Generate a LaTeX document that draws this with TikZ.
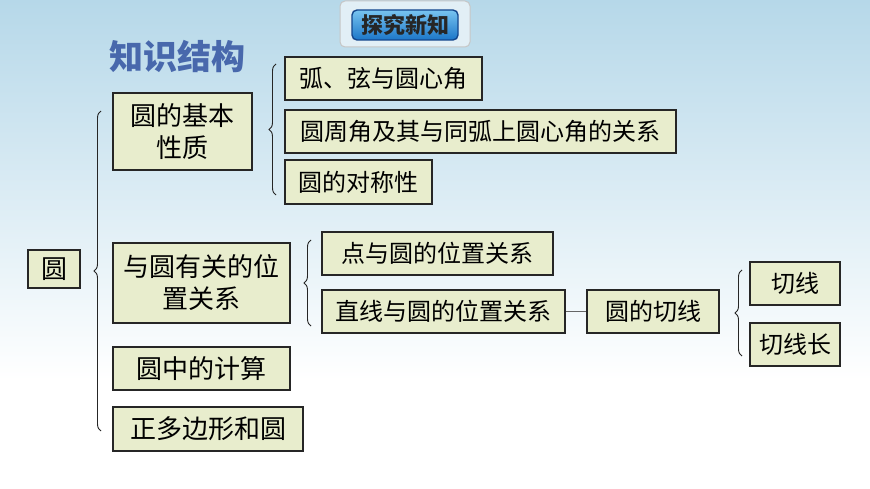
\documentclass[tikz,border=0pt]{standalone}
\usepackage{fontspec}
\setmainfont{Noto Sans CJK SC}
\usetikzlibrary{decorations.pathreplacing,shadows}
\definecolor{boxfill}{RGB}{232,237,205}
\definecolor{sky}{RGB}{182,216,233}
\definecolor{titleblue}{RGB}{72,104,172}
\definecolor{bannertop}{RGB}{120,196,240}
\definecolor{bannerbot}{RGB}{28,118,200}
\definecolor{bannerline}{RGB}{20,70,140}
\tikzset{
  kbox/.style={draw=black!85, line width=1.2pt, fill=boxfill, inner sep=0pt, align=center,
    font=\fontsize{24}{30}\selectfont,
    drop shadow={shadow xshift=1.2pt, shadow yshift=-1.2pt, fill=black!50, opacity=0.5}},
  bigtext/.style={font=\fontsize{26}{32}\selectfont},
  brc/.style={decorate, decoration={brace, amplitude=7pt}, line width=0.9pt, draw=black!85},
}
\begin{document}
\begin{tikzpicture}[x=1pt,y=-1pt]
\useasboundingbox (0,0) rectangle (870,489);
% background
\shade[top color=sky, bottom color=white] (0,0) rectangle (870,380);
\fill[white] (0,380) rectangle (870,489);
% banner
\draw[rounded corners=5pt, fill=sky!40!white, draw=gray!45, line width=1pt] (340,1) rectangle (470,47);
\node[rounded corners=5pt, draw=bannerline, line width=1.4pt, top color=bannertop, bottom color=bannerbot,
  minimum width=106pt, minimum height=30pt, inner sep=0pt,
  font=\fontsize{22}{22}\selectfont\bfseries, text=black!85] (banner) at (405,25) {探究新知};
% title
\node[font=\fontsize{34}{34}\selectfont\bfseries, text=titleblue, inner sep=0pt] (title) at (177,57) {知识结构};
% boxes
\node[kbox, bigtext, minimum width=52pt, minimum height=38pt] (yuan) at (54,269) {圆};
\node[kbox, bigtext, minimum width=139pt, minimum height=77pt] (jb) at (182.5,131.5) {圆的基本\\性质};
\node[kbox, minimum width=197pt, minimum height=43pt] (a1) at (383.5,78.5) {弧、弦与圆心角};
\node[kbox, minimum width=391pt, minimum height=43pt] (a2) at (480.5,131.5) {圆周角及其与同弧上圆心角的关系};
\node[kbox, minimum width=147pt, minimum height=44pt] (a3) at (358.5,182) {圆的对称性};
\node[kbox, bigtext, minimum width=177pt, minimum height=80pt] (wz) at (201.5,283) {与圆有关的位\\置关系};
\node[kbox, minimum width=231pt, minimum height=43pt] (b1) at (437.5,253.5) {点与圆的位置关系};
\node[kbox, minimum width=243pt, minimum height=43pt] (b2) at (443.5,311.5) {直线与圆的位置关系};
\node[kbox, minimum width=132pt, minimum height=43pt] (qx) at (653,311.5) {圆的切线};
\node[kbox, minimum width=90pt, minimum height=43pt] (c1) at (795,283.5) {切线};
\node[kbox, minimum width=90pt, minimum height=43pt] (c2) at (795,344.5) {切线长};
\node[kbox, bigtext, minimum width=177pt, minimum height=43pt] (js) at (201.5,368.5) {圆中的计算};
\node[kbox, bigtext, minimum width=190pt, minimum height=44pt] (zd) at (208,429) {正多边形和圆};
% connector
\draw[line width=1.8pt, draw=black!60] (b2.east) -- (qx.west);
% braces
\coordinate (g1t) at (101,111); \coordinate (g1b) at (101,431);
\draw[brc] (g1b) -- (g1t);
\coordinate (g2t) at (276,64); \coordinate (g2b) at (276,195);
\draw[brc] (g2b) -- (g2t);
\coordinate (g3t) at (311,240); \coordinate (g3b) at (311,326);
\draw[brc] (g3b) -- (g3t);
\coordinate (g4t) at (742,270); \coordinate (g4b) at (742,356);
\draw[brc] (g4b) -- (g4t);
\end{tikzpicture}
\end{document}
